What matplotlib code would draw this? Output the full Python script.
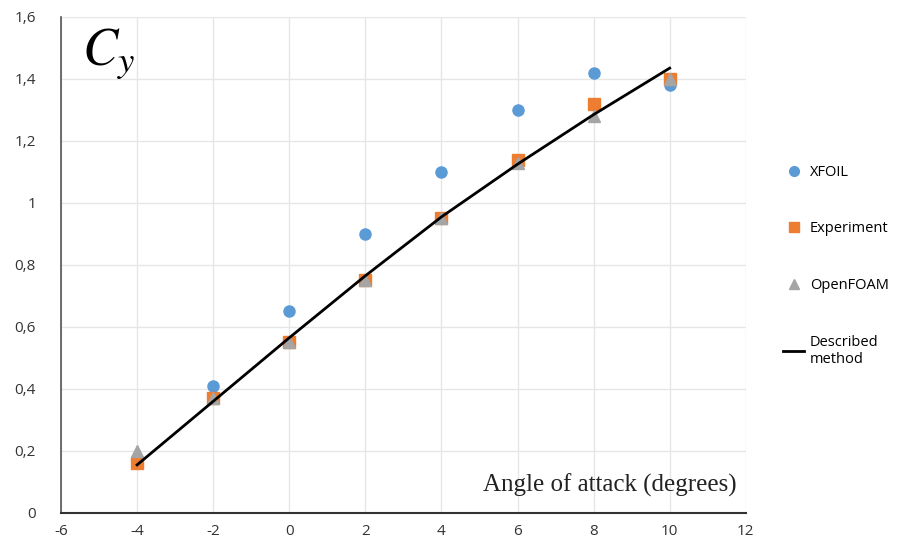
import numpy as np
import matplotlib
matplotlib.use("Agg")
import matplotlib.pyplot as plt
from matplotlib.lines import Line2D

# data
angles = [-4, -2, 0, 2, 4, 6, 8, 10]
xfoilX = [-2, 0, 2, 4, 6, 8, 10]
xfoil = [0.41, 0.65, 0.90, 1.10, 1.30, 1.42, 1.38]
experiment = [0.16, 0.37, 0.55, 0.75, 0.95, 1.14, 1.32, 1.40]
openfoam = [0.20, 0.37, 0.55, 0.75, 0.95, 1.13, 1.28, 1.40]
described = [0.155, 0.36, 0.565, 0.765, 0.955, 1.125, 1.285, 1.435]

xTicks = [-6, -4, -2, 0, 2, 4, 6, 8, 10, 12]
yTicks = [0, 0.2, 0.4, 0.6, 0.8, 1.0, 1.2, 1.4, 1.6]
yLabels = ['0', '0,2', '0,4', '0,6', '0,8', '1', '1,2', '1,4', '1,6']

plt.rcParams['font.family'] = ['Open Sans', 'DejaVu Sans']
plt.rcParams['mathtext.fontset'] = 'stix'

fig = plt.figure(figsize=(9.01, 5.48), dpi=100)
ax = fig.add_axes([0.0677, 0.064, 0.760, 0.905])

ax.plot(xfoilX, xfoil, 'o', color='#5B9BD5', markersize=8, linestyle='none', label='XFOIL', zorder=3)
ax.plot(angles, experiment, 's', color='#ED7D31', markersize=8, linestyle='none', label='Experiment', zorder=3)
ax.plot(angles, openfoam, '^', color='#A5A5A5', markersize=8, linestyle='none', label='OpenFOAM', zorder=3)
ax.plot(angles, described, '-', color='black', linewidth=2, label='Described\nmethod', zorder=4)

ax.set_xlim(-6, 12)
ax.set_ylim(0, 1.6)
ax.set_xticks(xTicks)
ax.set_xticklabels([str(t) for t in xTicks])
ax.set_yticks(yTicks)
ax.set_yticklabels(yLabels)
ax.tick_params(axis='y', length=0, labelsize=11, colors='#333333', pad=18)
ax.tick_params(axis='x', length=0, labelsize=11, colors='#333333', pad=8)
ax.grid(True, color='#E6E6E6', linewidth=1)
ax.set_axisbelow(True)

for s in ['top', 'right']:
    ax.spines[s].set_visible(False)
ax.spines['left'].set_color('#555555')
ax.spines['bottom'].set_color('#333333')
ax.spines['left'].set_linewidth(1.2)
ax.spines['bottom'].set_linewidth(1.5)

# axis labels inside the plot area
ax.text(-5.45, 1.48, r'$C_y$', fontsize=38, ha='left', va='center')
ax.text(11.75, 0.05, 'Angle of attack (degrees)', fontsize=18, ha='right', va='bottom',
        family='Liberation Serif', color='#222222')

handles = [
    Line2D([], [], marker='o', color='#5B9BD5', linestyle='none', markersize=7),
    Line2D([], [], marker='s', color='#ED7D31', linestyle='none', markersize=7),
    Line2D([], [], marker='^', color='#A5A5A5', linestyle='none', markersize=7),
    Line2D([], [], color='black', linewidth=2),
]
leg = fig.legend(handles, ['XFOIL', 'Experiment', 'OpenFOAM', 'Described\nmethod'],
                 loc='center left', bbox_to_anchor=(0.855, 0.515), frameon=False,
                 fontsize=10.5, labelspacing=2.85, handlelength=1.4, handletextpad=0.4)

fig.savefig('out.png', dpi=100)
